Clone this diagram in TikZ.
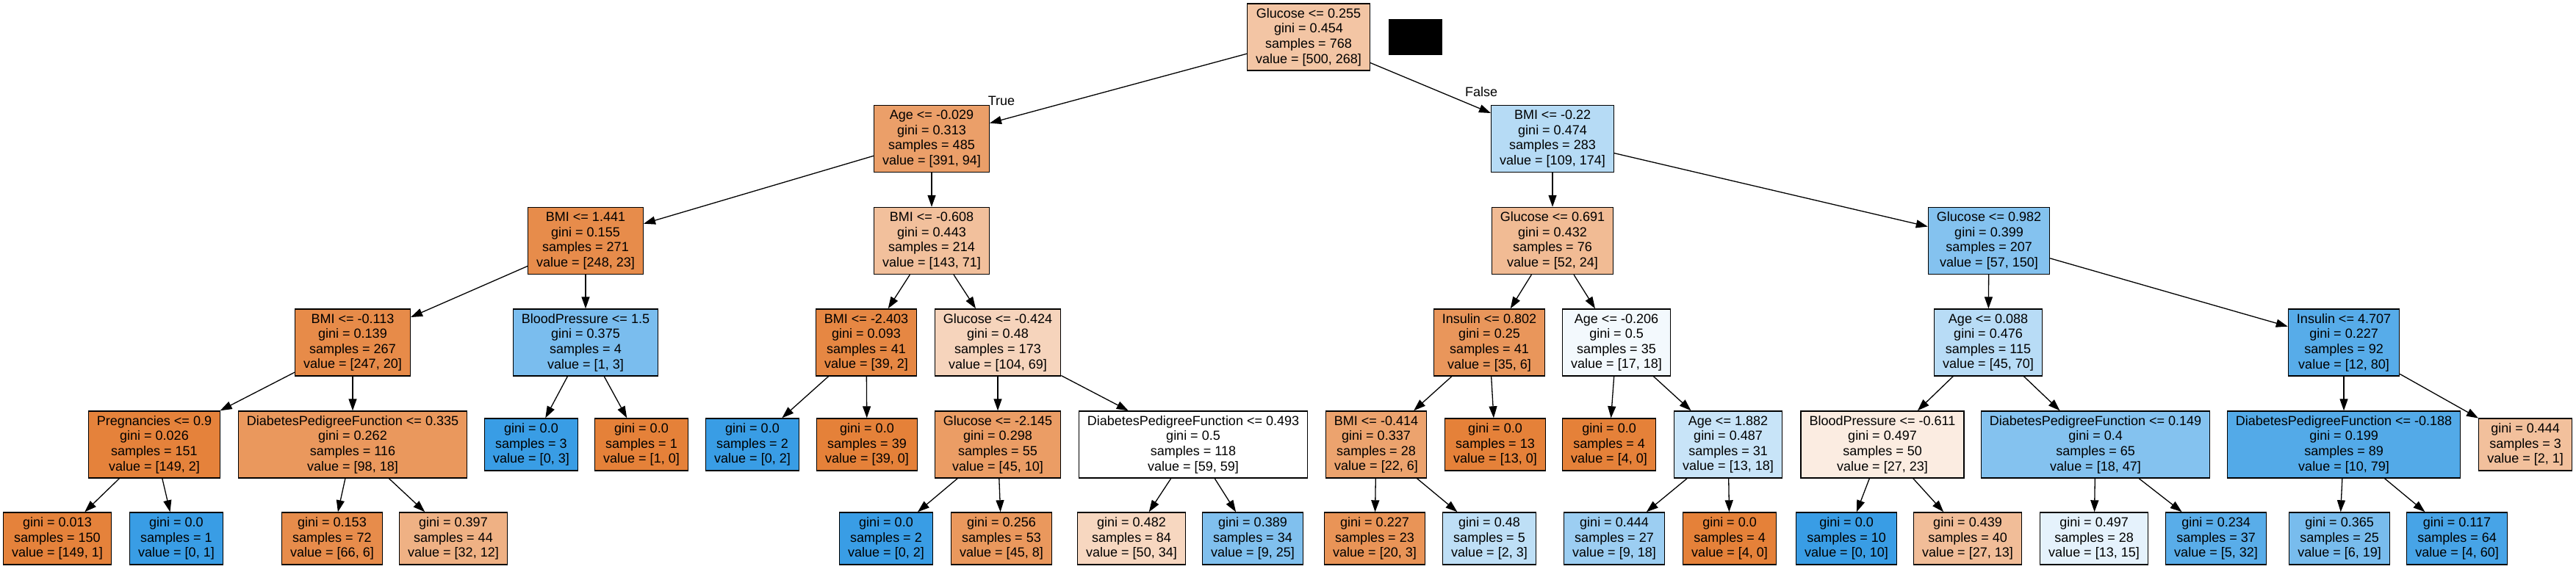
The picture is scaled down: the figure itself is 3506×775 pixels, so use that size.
\documentclass[tikz,border=0pt]{standalone}
\usepackage{fontspec}
\setmainfont{Liberation Sans}
\usetikzlibrary{arrows.meta}

\definecolor{cls0}{RGB}{229,129,57}
\definecolor{cls1}{RGB}{57,157,229}

\tikzset{every picture/.style={line width=0.65pt},
  split/.style={draw, rectangle, align=center, font=\fontsize{9}{10.3}\selectfont,
    inner xsep=5.75pt, inner ysep=0pt, minimum height=45.5pt, line width=0.7pt},
  leaf/.style={split, minimum height=35.5pt},
  edge/.style={-{Triangle[length=8pt,width=5.5pt]}},
  lbl/.style={font=\fontsize{9}{10.3}\selectfont, inner sep=0pt}}

\begin{document}
\begin{tikzpicture}[x=0.5pt,y=0.5pt,yscale=-1,xscale=1]
        \useasboundingbox (0,0) rectangle (3506,775);

        \node[split, fill=cls0!46] (t) at (1781,50.5) {Glucose <= 0.255\\gini = 0.454\\samples = 768\\value = [500, 268]};
        \fill (1890,26) rectangle (1963,75);

        \node[split, fill=cls0!76] (tL) at (1268,189) {Age <= -0.029\\gini = 0.313\\samples = 485\\value = [391, 94]};
        \node[split, fill=cls1!37] (tR) at (2113,189) {BMI <= -0.22\\gini = 0.474\\samples = 283\\value = [109, 174]};

        \node[split, fill=cls0!91] (tLL) at (797,328) {BMI <= 1.441\\gini = 0.155\\samples = 271\\value = [248, 23]};
        \node[split, fill=cls0!50] (tLR) at (1268,328) {BMI <= -0.608\\gini = 0.443\\samples = 214\\value = [143, 71]};
        \node[split, fill=cls0!54] (tRL) at (2113,328) {Glucose <= 0.691\\gini = 0.432\\samples = 76\\value = [52, 24]};
        \node[split, fill=cls1!62] (tRR) at (2707,328) {Glucose <= 0.982\\gini = 0.399\\samples = 207\\value = [57, 150]};

        \node[split, fill=cls0!92] (tLLL) at (480,466.5) {BMI <= -0.113\\gini = 0.139\\samples = 267\\value = [247, 20]};
        \node[split, fill=cls1!67] (tLLR) at (797,466.5) {BloodPressure <= 1.5\\gini = 0.375\\samples = 4\\value = [1, 3]};
        \node[split, fill=cls0!95] (tLRL) at (1179,466.5) {BMI <= -2.403\\gini = 0.093\\samples = 41\\value = [39, 2]};
        \node[split, fill=cls0!34] (tLRR) at (1358,466.5) {Glucose <= -0.424\\gini = 0.48\\samples = 173\\value = [104, 69]};
        \node[split, fill=cls0!83] (tRLL) at (2027,466.5) {Insulin <= 0.802\\gini = 0.25\\samples = 41\\value = [35, 6]};
        \node[split, fill=cls1!6] (tRLR) at (2200,466.5) {Age <= -0.206\\gini = 0.5\\samples = 35\\value = [17, 18]};
        \node[split, fill=cls1!36] (tRRL) at (2706,466.5) {Age <= 0.088\\gini = 0.476\\samples = 115\\value = [45, 70]};
        \node[split, fill=cls1!85] (tRRR) at (3190,466.5) {Insulin <= 4.707\\gini = 0.227\\samples = 92\\value = [12, 80]};

        \node[split, fill=cls0!99] (tLLLL) at (210,605.5) {Pregnancies <= 0.9\\gini = 0.026\\samples = 151\\value = [149, 2]};
        \node[split, fill=cls0!82] (tLLLR) at (480,605.5) {DiabetesPedigreeFunction <= 0.335\\gini = 0.262\\samples = 116\\value = [98, 18]};
        \node[leaf, fill=cls1] (tLLRL) at (723,605.5) {gini = 0.0\\samples = 3\\value = [0, 3]};
        \node[leaf, fill=cls0] (tLLRR) at (873,605.5) {gini = 0.0\\samples = 1\\value = [1, 0]};
        \node[leaf, fill=cls1] (tLRLL) at (1024,605.5) {gini = 0.0\\samples = 2\\value = [0, 2]};
        \node[leaf, fill=cls0] (tLRLR) at (1180,605.5) {gini = 0.0\\samples = 39\\value = [39, 0]};
        \node[split, fill=cls0!78] (tLRRL) at (1358,605.5) {Glucose <= -2.145\\gini = 0.298\\samples = 55\\value = [45, 10]};
        \node[split, fill=white] (tLRRR) at (1624,605.5) {DiabetesPedigreeFunction <= 0.493\\gini = 0.5\\samples = 118\\value = [59, 59]};
        \node[split, fill=cls0!73] (tRLLL) at (1873,605.5) {BMI <= -0.414\\gini = 0.337\\samples = 28\\value = [22, 6]};
        \node[leaf, fill=cls0] (tRLLR) at (2035,605.5) {gini = 0.0\\samples = 13\\value = [13, 0]};
        \node[leaf, fill=cls0] (tRLRL) at (2190,605.5) {gini = 0.0\\samples = 4\\value = [4, 0]};
        \node[split, fill=cls1!28] (tRLRR) at (2352,605.5) {Age <= 1.882\\gini = 0.487\\samples = 31\\value = [13, 18]};
        \node[split, fill=cls0!15] (tRRLL) at (2562,605.5) {BloodPressure <= -0.611\\gini = 0.497\\samples = 50\\value = [27, 23]};
        \node[split, fill=cls1!62] (tRRLR) at (2852,605.5) {DiabetesPedigreeFunction <= 0.149\\gini = 0.4\\samples = 65\\value = [18, 47]};
        \node[split, fill=cls1!87] (tRRRL) at (3190,605.5) {DiabetesPedigreeFunction <= -0.188\\gini = 0.199\\samples = 89\\value = [10, 79]};
        \node[leaf, fill=cls0!50] (tRRRR) at (3437,605.5) {gini = 0.444\\samples = 3\\value = [2, 1]};

        \node[leaf, fill=cls0!99] (tLLLLL) at (78,733.5) {gini = 0.013\\samples = 150\\value = [149, 1]};
        \node[leaf, fill=cls1] (tLLLLR) at (240,733.5) {gini = 0.0\\samples = 1\\value = [0, 1]};
        \node[leaf, fill=cls0!91] (tLLLRL) at (452,733.5) {gini = 0.153\\samples = 72\\value = [66, 6]};
        \node[leaf, fill=cls0!62] (tLLLRR) at (617,733.5) {gini = 0.397\\samples = 44\\value = [32, 12]};
        \node[leaf, fill=cls1] (tLRRLL) at (1206,733.5) {gini = 0.0\\samples = 2\\value = [0, 2]};
        \node[leaf, fill=cls0!82] (tLRRLR) at (1363,733.5) {gini = 0.256\\samples = 53\\value = [45, 8]};
        \node[leaf, fill=cls0!32] (tLRRRL) at (1540,733.5) {gini = 0.482\\samples = 84\\value = [50, 34]};
        \node[leaf, fill=cls1!64] (tLRRRR) at (1705,733.5) {gini = 0.389\\samples = 34\\value = [9, 25]};
        \node[leaf, fill=cls0!85] (tRLLLL) at (1871,733.5) {gini = 0.227\\samples = 23\\value = [20, 3]};
        \node[leaf, fill=cls1!33] (tRLLLR) at (2027,733.5) {gini = 0.48\\samples = 5\\value = [2, 3]};
        \node[leaf, fill=cls1!50] (tRLRRL) at (2197,733.5) {gini = 0.444\\samples = 27\\value = [9, 18]};
        \node[leaf, fill=cls0] (tRLRRR) at (2354,733.5) {gini = 0.0\\samples = 4\\value = [4, 0]};
        \node[leaf, fill=cls1] (tRRLLL) at (2513,733.5) {gini = 0.0\\samples = 10\\value = [0, 10]};
        \node[leaf, fill=cls0!52] (tRRLLR) at (2678,733.5) {gini = 0.439\\samples = 40\\value = [27, 13]};
        \node[leaf, fill=cls1!13] (tRRLRL) at (2850,733.5) {gini = 0.497\\samples = 28\\value = [13, 15]};
        \node[leaf, fill=cls1!84] (tRRLRR) at (3016,733.5) {gini = 0.234\\samples = 37\\value = [5, 32]};
        \node[leaf, fill=cls1!68] (tRRRLL) at (3184,733.5) {gini = 0.365\\samples = 25\\value = [6, 19]};
        \node[leaf, fill=cls1!93] (tRRRLR) at (3344,733.5) {gini = 0.117\\samples = 64\\value = [4, 60]};

        \node[lbl] (true) at (1363,137) {True};
        \node[lbl] (false) at (2016,125) {False};

        \draw[edge] (t) -- (tL);
        \draw[edge] (t) -- (tR);
        \draw[edge] (tL) -- (tLL);
        \draw[edge] (tL) -- (tLR);
        \draw[edge] (tR) -- (tRL);
        \draw[edge] (tR) -- (tRR);
        \draw[edge] (tLL) -- (tLLL);
        \draw[edge] (tLL) -- (tLLR);
        \draw[edge] (tLR) -- (tLRL);
        \draw[edge] (tLR) -- (tLRR);
        \draw[edge] (tRL) -- (tRLL);
        \draw[edge] (tRL) -- (tRLR);
        \draw[edge] (tRR) -- (tRRL);
        \draw[edge] (tRR) -- (tRRR);
        \draw[edge] (tLLL) -- (tLLLL);
        \draw[edge] (tLLL) -- (tLLLR);
        \draw[edge] (tLLR) -- (tLLRL);
        \draw[edge] (tLLR) -- (tLLRR);
        \draw[edge] (tLRL) -- (tLRLL);
        \draw[edge] (tLRL) -- (tLRLR);
        \draw[edge] (tLRR) -- (tLRRL);
        \draw[edge] (tLRR) -- (tLRRR);
        \draw[edge] (tRLL) -- (tRLLL);
        \draw[edge] (tRLL) -- (tRLLR);
        \draw[edge] (tRLR) -- (tRLRL);
        \draw[edge] (tRLR) -- (tRLRR);
        \draw[edge] (tRRL) -- (tRRLL);
        \draw[edge] (tRRL) -- (tRRLR);
        \draw[edge] (tRRR) -- (tRRRL);
        \draw[edge] (tRRR) -- (tRRRR);
        \draw[edge] (tLLLL) -- (tLLLLL);
        \draw[edge] (tLLLL) -- (tLLLLR);
        \draw[edge] (tLLLR) -- (tLLLRL);
        \draw[edge] (tLLLR) -- (tLLLRR);
        \draw[edge] (tLRRL) -- (tLRRLL);
        \draw[edge] (tLRRL) -- (tLRRLR);
        \draw[edge] (tLRRR) -- (tLRRRL);
        \draw[edge] (tLRRR) -- (tLRRRR);
        \draw[edge] (tRLLL) -- (tRLLLL);
        \draw[edge] (tRLLL) -- (tRLLLR);
        \draw[edge] (tRLRR) -- (tRLRRL);
        \draw[edge] (tRLRR) -- (tRLRRR);
        \draw[edge] (tRRLL) -- (tRRLLL);
        \draw[edge] (tRRLL) -- (tRRLLR);
        \draw[edge] (tRRLR) -- (tRRLRL);
        \draw[edge] (tRRLR) -- (tRRLRR);
        \draw[edge] (tRRRL) -- (tRRRLL);
        \draw[edge] (tRRRL) -- (tRRRLR);
    \end{tikzpicture}
\end{document}
